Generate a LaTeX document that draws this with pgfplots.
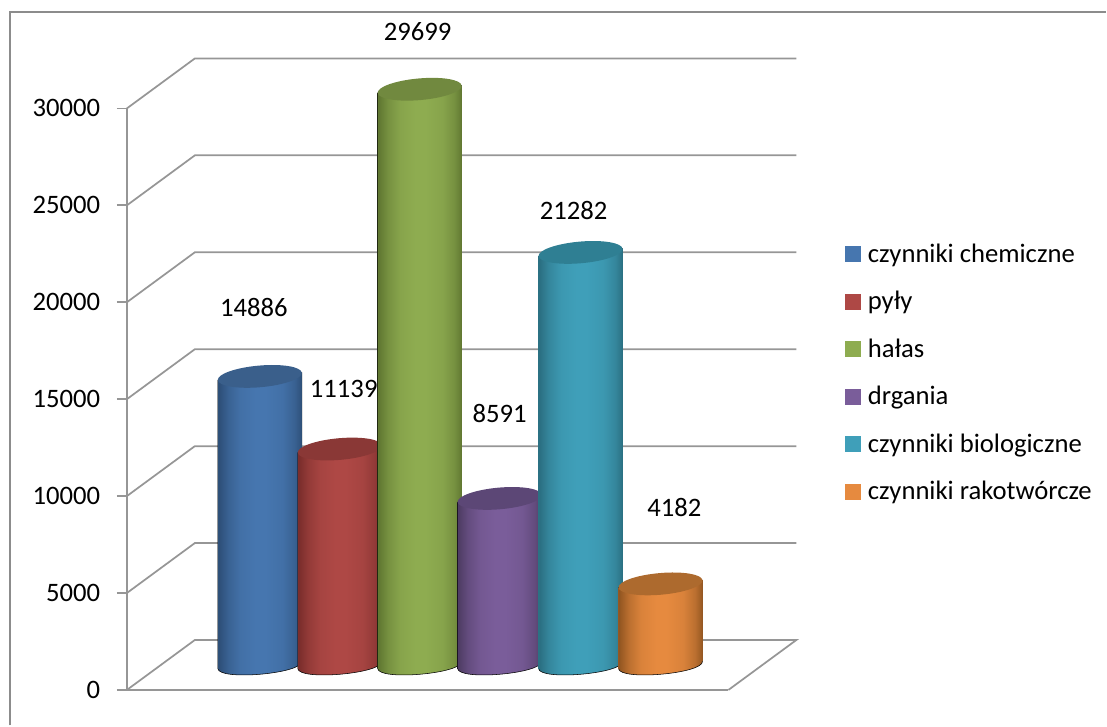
\documentclass[border=0pt]{standalone}
\usepackage{fontspec}
\setmainfont{Carlito}
\usepackage{pgfplots}
\pgfplotsset{compat=1.18}

% 1 px = 0.75pt; 1 px on the value axis = 51.546 units
\definecolor{axgray}{HTML}{969696}
\definecolor{frgray}{HTML}{8C8C8C}

\definecolor{blueD}{HTML}{2C4D75}\definecolor{blueM}{HTML}{4676AF}\definecolor{blueT}{HTML}{3A5F8B}
\definecolor{redD}{HTML}{772C2A}\definecolor{redM}{HTML}{AE4845}\definecolor{redT}{HTML}{8A3836}
\definecolor{greenD}{HTML}{5E7530}\definecolor{greenM}{HTML}{8EAC50}\definecolor{greenT}{HTML}{71893F}
\definecolor{purpD}{HTML}{4D3B62}\definecolor{purpM}{HTML}{7A5D9A}\definecolor{purpT}{HTML}{5C4776}
\definecolor{tealD}{HTML}{2A6D7F}\definecolor{tealM}{HTML}{3F9FB9}\definecolor{tealT}{HTML}{2F7F93}
\definecolor{orgD}{HTML}{8F5420}\definecolor{orgM}{HTML}{E68A3F}\definecolor{orgT}{HTML}{AD6A2E}

\newcommand\cylshade[3]{%
  \pgfdeclarehorizontalshading{#1}{100bp}{%
    color(0bp)=(#2); color(25bp)=(#2);
    color(31bp)=(#3!50!#2);
    color(38bp)=(#3!85!#2);
    color(47bp)=(#3); color(53bp)=(#3);
    color(63bp)=(#3!85!#2);
    color(70bp)=(#3!50!#2);
    color(75bp)=(#2); color(100bp)=(#2)}}
\cylshade{cylblue}{blueD}{blueM}
\cylshade{cylred}{redD}{redM}
\cylshade{cylgreen}{greenD}{greenM}
\cylshade{cylpurp}{purpD}{purpM}
\cylshade{cylteal}{tealD}{tealM}
\cylshade{cylorg}{orgD}{orgM}

% whole cylinder, drawn from the data point down to the floor
\newcommand\drawcyl[3]{%
  \edef\cylB{\fpeval{18.75-\val*0.75/51.546}}%
  \shade[shading=#1] (-31.5pt,15.99pt) -- (-31.5pt,\cylB pt-2.75pt)
    .. controls (-30.6pt,\cylB pt-12pt) and (32.4pt,\cylB pt-6.5pt) .. (31.5pt,\cylB pt+2.75pt)
    -- (31.5pt,21.5pt) -- cycle;
  % soften the hard edge of the shading
  \draw[#3!80!#2, line width=0.8pt] (-31.2pt,15.99pt) -- (-31.2pt,\cylB pt-2.75pt);
  \draw[#3!80!#2, line width=0.8pt] (31.2pt,21.5pt) -- (31.2pt,\cylB pt+2.75pt);
  \begin{pgfscope}
    \pgfsetfillcolor{#2}%
    \pgfpathellipse{\pgfpoint{0pt}{18.75pt}}{\pgfpoint{31.5pt}{2.75pt}}{\pgfpoint{-0.7pt}{8.1pt}}%
    \pgfusepath{fill}%
  \end{pgfscope}}

\pgfdeclareplotmark{nil}{}

\pgfplotsset{
  cyl/.style n args={3}{only marks, scatter, mark=nil, forget plot,
    scatter src=y,
    visualization depends on=rawy \as \val,
    scatter/@pre marker code/.code={\drawcyl{#1}{#2}{#3}},
    scatter/@post marker code/.code={}},
  wall/.style={axgray, line width=1.3pt, no marks, forget plot},
}

\begin{document}
\begin{tikzpicture}
\begin{axis}[
  at={(0,0)}, anchor=origin,
  scale only axis,
  width=451.5pt, height=436.5pt,
  xmin=127, xmax=729, ymin=0, ymax=30000,
  clip=false,
  axis x line*=bottom, axis y line*=left,
  axis line style={axgray, line width=1.3pt},
  xtick=\empty,
  ytick={0,5000,10000,15000,20000,25000,30000},
  scaled y ticks=false,
  tick style={axgray, line width=1.3pt},
  major tick length=7.5pt,
  tick align=outside,
  yticklabel style={/pgf/number format/.cd, 1000 sep={}, assume math mode=true},
  tick label style={font=\fontsize{20}{24}\selectfont, black},
  yticklabel shift=9pt,
  legend style={at={(axis cs:846,23015)}, anchor=north west, draw=none, fill=none,
    font=\fontsize{20}{24}\selectfont, row sep=20.25pt, inner sep=0pt, outer sep=0pt,
    nodes={inner sep=0pt}},
  legend cell align=left,
  legend image code/.code={\fill[#1] (0pt,-5.6pt) rectangle (11.2pt,5.6pt); \path (16.5pt,0pt);},
]
% outer frame and page
\path (axis cs:0,-1830) rectangle (axis cs:1107,35592);
\addplot[frgray, line width=1.3pt, no marks, forget plot] coordinates {(10,-1830)(10,34971)(1107,34971)};

% walls and floor
\addplot[wall] coordinates {(127,0)(195,2577)(797,2577)(729,0)};
\addplot[wall] coordinates {(127,5000)(195,7577)(797,7577)};
\addplot[wall] coordinates {(127,10000)(195,12577)(797,12577)};
\addplot[wall] coordinates {(127,15000)(195,17577)(797,17577)};
\addplot[wall] coordinates {(127,20000)(195,22577)(797,22577)};
\addplot[wall] coordinates {(127,25000)(195,27577)(797,27577)};
\addplot[wall] coordinates {(127,30000)(195,32577)(797,32577)};

% cylinders
\addplot[cyl={cylblue}{blueT}{blueD}] coordinates {(260,14886)};
\addplot[cyl={cylred}{redT}{redD}] coordinates {(340,11139)};
\addplot[cyl={cylgreen}{greenT}{greenD}] coordinates {(420,29699)};
\addplot[cyl={cylpurp}{purpT}{purpD}] coordinates {(500,8591)};
\addplot[cyl={cylteal}{tealT}{tealD}] coordinates {(581,21282)};
\addplot[cyl={cylorg}{orgT}{orgD}] coordinates {(661,4182)};

% value labels
\addplot[draw=none, no marks, forget plot, point meta=explicit symbolic,
  nodes near coords, nodes near coords align={center},
  every node near coord/.style={font=\fontsize{20}{24}\selectfont, black, anchor=center, inner sep=0pt}]
  table[x=x, y=y, meta=label] {
x y label
254 19716 14886
344 15541 11139
418 33943 29699
500 14252 8591
574 24716 21282
675 9407 4182
};

% legend
\addlegendimage{blueM}
\addlegendentry{czynniki chemiczne}
\addlegendimage{redM}
\addlegendentry{pyły}
\addlegendimage{greenM}
\addlegendentry{hałas}
\addlegendimage{purpM}
\addlegendentry{drgania}
\addlegendimage{tealM}
\addlegendentry{czynniki biologiczne}
\addlegendimage{orgM}
\addlegendentry{czynniki rakotwórcze}
\end{axis}
\end{tikzpicture}
\end{document}
